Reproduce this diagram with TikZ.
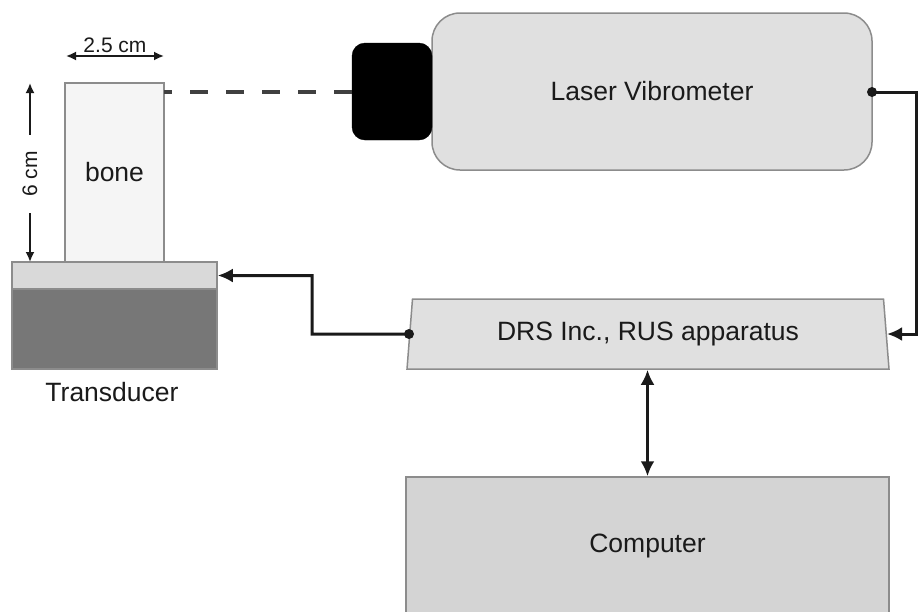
\documentclass[tikz,border=0pt]{standalone}
\usepackage{fontspec}
\setmainfont{Liberation Sans}
\usetikzlibrary{arrows.meta,shapes.geometric}
\definecolor{boxedge}{HTML}{8C8C8C}
\definecolor{lightfill}{HTML}{E0E0E0}
\definecolor{compfill}{HTML}{D4D4D4}
\definecolor{platefill}{HTML}{D9D9D9}
\definecolor{basefill}{HTML}{777777}
\definecolor{bonefill}{HTML}{F5F5F5}
\definecolor{ink}{HTML}{1A1A1A}
\tikzset{
  box/.style={draw=boxedge, line width=1.5pt, inner sep=0pt, text=ink,
    font=\fontsize{26.5}{30}\selectfont},
  wire/.style={draw=ink, line width=3pt, line join=miter},
  tip/.style={-{Latex[length=15pt,width=14pt]}},
  dim/.style={draw=ink, line width=1.8pt, {Latex[length=10pt,width=9pt]}-{Latex[length=10pt,width=9pt]}},
  dimlabel/.style={text=ink, font=\fontsize{21}{24}\selectfont, inner sep=0pt},
  dot/.style={circle, fill=ink, minimum size=10pt, inner sep=0pt}
}
\begin{document}
\begin{tikzpicture}[x=1pt,y=-1pt]
\useasboundingbox (0,0) rectangle (920,611);

% sample and transducer
\node[box, fill=bonefill, minimum width=99pt, minimum height=179pt] (bone) at (114.5,172.5) {bone};
\node[box, fill=platefill, minimum width=205pt, minimum height=27pt] (plate) at (114.5,275.5) {};
\node[box, fill=basefill, minimum width=205pt, minimum height=80pt] (base) at (114.5,329) {};
\node[text=ink, font=\fontsize{26.5}{30}\selectfont, inner sep=0pt] (tlabel) at (112,392) {Transducer};

% dimensions of the bone
\coordinate (wL) at (66,56);
\coordinate (wR) at (164,56);
\draw[dim] (wL) -- (wR);
\node[dimlabel] (wlabel) at (115,45) {2.5 cm};
\coordinate (hT) at (30,83);
\coordinate (hB) at (30,262);
\draw[dim] (hT) -- (hB);
\node[dimlabel, fill=white, rotate=90, inner xsep=16pt, inner ysep=2pt] (hlabel) at (30,174) {6 cm};

% laser vibrometer with its head
\node[box, fill=lightfill, rounded corners=28pt, minimum width=440pt, minimum height=157pt] (vib) at (652,91.5) {\raisebox{-3pt}{Laser Vibrometer}};
\node[draw=black, fill=black, rounded corners=13pt, minimum width=80pt, minimum height=97pt, inner sep=0pt] (head) at (392,91.5) {};

% laser beam
\coordinate (beam) at (164,92);
\draw[draw=black!75, line width=4.5pt, dash pattern=on 18pt off 18pt, dash phase=10pt] (beam) -- (head.west |- beam);

% RUS apparatus
\node[box, fill=lightfill, trapezium, trapezium stretches body=true,
  trapezium left angle=77.1, trapezium right angle=77.1,
  minimum width=482pt, minimum height=70pt] (drs) at (648,334) {\raisebox{-3pt}{DRS Inc., RUS apparatus}};

% computer
\node[box, fill=compfill, minimum width=483pt, minimum height=138pt] (comp) at (647.5,546) {Computer};

% signal connections
\coordinate (outR) at (916,92);
\coordinate (vibOut) at (872,92);
\draw[wire, tip] (vibOut) -- (outR) |- (drs.east);
\node[dot] (d1) at (vibOut) {};
\coordinate (back) at (312,334);
\draw[wire, tip] (drs.west) -- (back) |- (plate.east);
\node[dot] (d2) at (drs.west) {};
\draw[wire, {Latex[length=15pt,width=14pt]}-{Latex[length=15pt,width=14pt]}] (drs.south -| comp.north) -- (comp.north);
\end{tikzpicture}
\end{document}
